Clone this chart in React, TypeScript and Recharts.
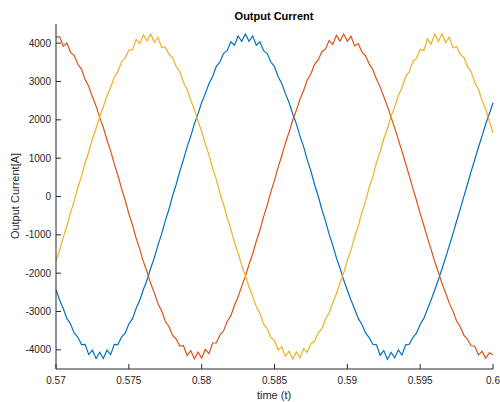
import React from 'react';
import { LineChart, Line, XAxis, YAxis } from 'recharts';

const TIME = [
  0.57, 0.57025, 0.5705, 0.57075, 0.571, 0.57125, 0.5715, 0.57175,
  0.572, 0.57225, 0.5725, 0.57275, 0.573, 0.57325, 0.5735, 0.57375,
  0.574, 0.57425, 0.5745, 0.57475, 0.575, 0.57525, 0.5755, 0.57575,
  0.576, 0.57625, 0.5765, 0.57675, 0.577, 0.57725, 0.5775, 0.57775,
  0.578, 0.57825, 0.5785, 0.57875, 0.579, 0.57925, 0.5795, 0.57975,
  0.58, 0.58025, 0.5805, 0.58075, 0.581, 0.58125, 0.5815, 0.58175,
  0.582, 0.58225, 0.5825, 0.58275, 0.583, 0.58325, 0.5835, 0.58375,
  0.584, 0.58425, 0.5845, 0.58475, 0.585, 0.58525, 0.5855, 0.58575,
  0.586, 0.58625, 0.5865, 0.58675, 0.587, 0.58725, 0.5875, 0.58775,
  0.588, 0.58825, 0.5885, 0.58875, 0.589, 0.58925, 0.5895, 0.58975,
  0.59, 0.59025, 0.5905, 0.59075, 0.591, 0.59125, 0.5915, 0.59175,
  0.592, 0.59225, 0.5925, 0.59275, 0.593, 0.59325, 0.5935, 0.59375,
  0.594, 0.59425, 0.5945, 0.59475, 0.595, 0.59525, 0.5955, 0.59575,
  0.596, 0.59625, 0.5965, 0.59675, 0.597, 0.59725, 0.5975, 0.59775,
  0.598, 0.59825, 0.5985, 0.59875, 0.599, 0.59925, 0.5995, 0.59975,
  0.6,
];

const PHASE_A = [
  -2427, -2707, -2922, -3186, -3327, -3568, -3668, -3864, -3857, -4125,
  -4009, -4227, -4060, -4227, -4009, -4125, -3857, -3864, -3668, -3568,
  -3327, -3186, -2922, -2707, -2427, -2180, -1872, -1600, -1270, -981,
  -637, -338, 12, 314, 661, 957, 1294, 1576, 1896, 2156,
  2451, 2683, 2946, 3126, 3387, 3508, 3728, 3804, 4037, 3945,
  4189, 4047, 4240, 4047, 4189, 3945, 4037, 3804, 3728, 3508,
  3387, 3126, 2946, 2683, 2451, 2156, 1896, 1576, 1294, 957,
  661, 314, 12, -338, -637, -981, -1270, -1600, -1872, -2180,
  -2440, -2700, -2935, -3180, -3340, -3560, -3680, -3855, -3870, -4140,
  -4020, -4250, -4070, -4210, -4000, -4135, -3870, -3855, -3680, -3560,
  -3340, -3180, -2935, -2700, -2440, -2170, -1885, -1590, -1280, -975,
  -645, -330, 5, 320, 655, 965, 1285, 1580, 1890, 2160,
  2445,
];

const PHASE_B = [
  4160, 4170, 3919, 4002, 3761, 3677, 3450, 3322, 3054, 2869,
  2600, 2363, 2063, 1799, 1475, 1191, 851, 554, 205, -97,
  -446, -744, -1086, -1373, -1700, -1968, -2272, -2514, -2789, -2980,
  -3255, -3390, -3624, -3716, -3904, -3889, -4149, -4024, -4234, -4059,
  -4217, -3990, -4099, -3822, -3821, -3617, -3510, -3262, -3114, -2845,
  -2624, -2339, -2087, -1775, -1499, -1167, -875, -530, -229, 121,
  422, 768, 1062, 1397, 1676, 1992, 2248, 2538, 2765, 3040,
  3195, 3450, 3564, 3776, 3844, 4069, 3969, 4204, 4054, 4239,
  4050, 4180, 3930, 3990, 3770, 3670, 3460, 3315, 3065, 2860,
  2610, 2355, 2072, 1790, 1485, 1183, 860, 545, 212, -105,
  -440, -750, -1080, -1380, -1695, -1975, -2265, -2520, -2782, -2990,
  -3248, -3398, -3615, -3725, -3895, -3905, -4135, -4040, -4220, -4075,
  -4130,
];

const PHASE_C = [
  -1676, -1397, -1062, -768, -422, -121, 229, 530, 875, 1167,
  1499, 1775, 2087, 2339, 2624, 2845, 3114, 3262, 3510, 3617,
  3821, 3822, 4099, 3990, 4217, 4059, 4234, 4024, 4149, 3889,
  3904, 3716, 3624, 3390, 3255, 2980, 2789, 2514, 2272, 1968,
  1700, 1373, 1086, 744, 446, 97, -205, -554, -851, -1191,
  -1475, -1799, -2063, -2363, -2600, -2869, -3054, -3322, -3450, -3677,
  -3761, -4002, -3919, -4170, -4037, -4239, -4054, -4204, -3969, -4069,
  -3844, -3776, -3564, -3450, -3195, -3040, -2765, -2538, -2248, -1992,
  -1665, -1405, -1055, -775, -415, -128, 236, 522, 882, 1160,
  1506, 1768, 2094, 2332, 2631, 2838, 3122, 3255, 3518, 3610,
  3830, 3810, 4110, 3975, 4230, 4045, 4245, 4010, 4160, 3875,
  3912, 3708, 3632, 3382, 3263, 2972, 2797, 2506, 2280, 1960,
  1660,
];

const X_TICKS = [0.57, 0.575, 0.58, 0.585, 0.59, 0.595, 0.6];
const Y_TICKS = [-4000, -3000, -2000, -1000, 0, 1000, 2000, 3000, 4000];

const data = TIME.map((t, i) => ({ t, a: PHASE_A[i], b: PHASE_B[i], c: PHASE_C[i] }));

const FONT = '"Liberation Sans", Arial, Helvetica, sans-serif';
const AX = '#262626';

export default function App() {
  return (
    <div style={{ position: 'absolute', left: 0, top: 0, width: 500, height: 402, background: '#fff' }}>
      <LineChart
        width={500}
        height={402}
        data={data}
        margin={{ top: 24, right: 7, bottom: 3, left: 0 }}
        style={{ fontFamily: FONT }}
      >
        <XAxis
          dataKey="t"
          type="number"
          domain={[0.57, 0.6]}
          ticks={X_TICKS}
          interval={0}
          height={30}
          tickSize={-5}
          tickMargin={13}
          stroke={AX}
          tick={{ fill: AX, fontSize: 10, fontFamily: FONT }}
          tickFormatter={(v: number) => String(v)}
        />
        <YAxis
          type="number"
          domain={[-4500, 4500]}
          ticks={Y_TICKS}
          interval={0}
          width={56}
          tickSize={-5}
          tickMargin={10}
          stroke={AX}
          tick={{ fill: AX, fontSize: 10, fontFamily: FONT }}
        />
        <Line dataKey="a" stroke="#0072BD" strokeWidth={1.2} dot={false} isAnimationActive={false} type="linear" />
        <Line dataKey="b" stroke="#D95319" strokeWidth={1.2} dot={false} isAnimationActive={false} type="linear" />
        <Line dataKey="c" stroke="#EDB120" strokeWidth={1.2} dot={false} isAnimationActive={false} type="linear" />
      </LineChart>
      <svg
        width={500}
        height={402}
        style={{ position: 'absolute', left: 0, top: 0, pointerEvents: 'none' }}
      >
        <text x={274} y={16} textAnchor="middle" dominantBaseline="central" fontFamily={FONT} fontSize={11} fontWeight="bold" fill="#000">
          Output Current
        </text>
        <text x={274} y={395} textAnchor="middle" dominantBaseline="central" fontFamily={FONT} fontSize={11} fill={AX}>
          time (t)
        </text>
        <text
          x={15}
          y={196}
          textAnchor="middle"
          dominantBaseline="central"
          fontFamily={FONT}
          fontSize={11}
          fill={AX}
          transform="rotate(-90 15 196)"
        >
          Output Current[A]
        </text>
      </svg>
    </div>
  );
}
